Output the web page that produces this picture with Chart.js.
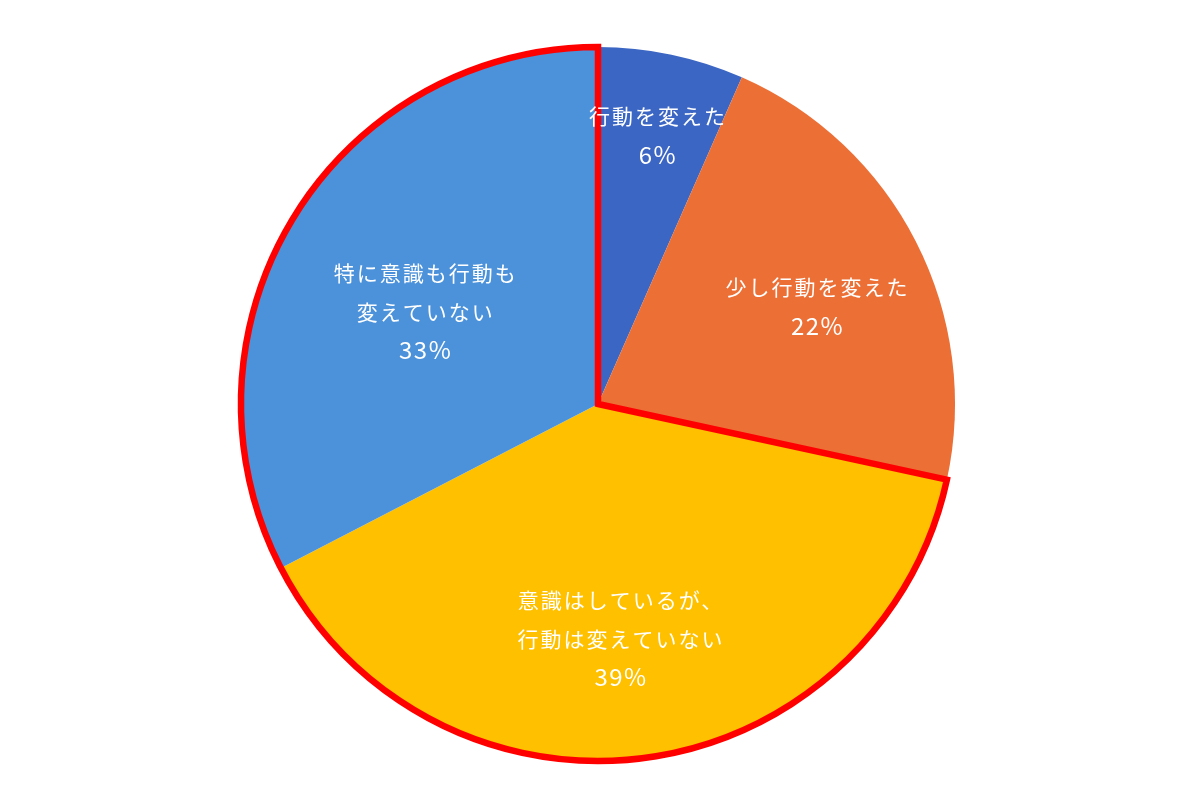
<!DOCTYPE html>
<html>
<head>
<meta charset="utf-8">
<script src="https://cdn.jsdelivr.net/npm/chart.js@4"></script>
<style>
html,body{margin:0;padding:0;background:#fff;}
#wrap{width:1200px;height:800px;}
</style>
</head>
<body>
<div id="wrap"><canvas id="c" width="1200" height="800"></canvas></div>
<script>
// Data
const categories = [
  ["行動を変えた"],
  ["少し行動を変えた"],
  ["意識はしているが、", "行動は変えていない"],
  ["特に意識も行動も", "変えていない"]
];
const values = [6.6, 21.8, 39.0, 32.6];
const percentLabels = ["6%", "22%", "39%", "33%"];
const colors = ["#3C66C3", "#EC6F36", "#FFC000", "#4C92DA"];
const highlighted = [2, 3]; // slices enclosed by red outline

// label placement (style): radius fraction and angle tweak in degrees
const labelPlace = [[0.77, 0.5], [0.67, 3], [0.66, 2.2], [0.55, -3.3]];

const labelPlugin = {
  id: 'sliceLabels',
  afterDatasetsDraw(chart) {
    const ctx = chart.ctx;
    const meta = chart.getDatasetMeta(0);
    const arcs = meta.data;
    // red outline around highlighted slices
    const first = arcs[highlighted[0]];
    const last = arcs[highlighted[highlighted.length - 1]];
    ctx.save();
    ctx.beginPath();
    ctx.moveTo(first.x, first.y);
    ctx.arc(first.x, first.y, first.outerRadius, first.startAngle, last.endAngle);
    ctx.closePath();
    ctx.strokeStyle = '#FF0000';
    ctx.lineWidth = 6.5;
    ctx.lineJoin = 'miter';
    ctx.stroke();
    ctx.restore();

    ctx.save();
    ctx.fillStyle = '#FFFFFF';
    ctx.textAlign = 'center';
    ctx.textBaseline = 'middle';
    const lineH = 38.5;
    arcs.forEach((arc, i) => {
      const mid = (arc.startAngle + arc.endAngle) / 2 + labelPlace[i][1] * Math.PI / 180;
      const r = arc.outerRadius * labelPlace[i][0];
      const x = arc.x + r * Math.cos(mid);
      const y = arc.y + r * Math.sin(mid);
      const lines = categories[i].concat([percentLabels[i]]);
      const y0 = y - (lines.length - 1) * lineH / 2;
      lines.forEach((t, k) => {
        const isPct = k === lines.length - 1;
        ctx.font = (isPct ? '24px' : '21px') + ' "Noto Sans CJK JP", "Noto Sans", sans-serif';
        try { ctx.letterSpacing = isPct ? '1.5px' : '2px'; } catch (e) {}
        ctx.fillText(t, x + 1, y0 + k * lineH);
      });
    });
    ctx.restore();
  }
};

new Chart(document.getElementById('c'), {
  type: 'pie',
  data: {
    labels: categories.map(c => c.join('')),
    datasets: [{
      data: values,
      backgroundColor: colors,
      borderWidth: 0
    }]
  },
  options: {
    responsive: false,
    animation: false,
    layout: { padding: { top: 47, bottom: 39, left: 0, right: 4 } },
    plugins: {
      legend: { display: false },
      tooltip: { enabled: false }
    }
  },
  plugins: [labelPlugin]
});
</script>
</body>
</html>
